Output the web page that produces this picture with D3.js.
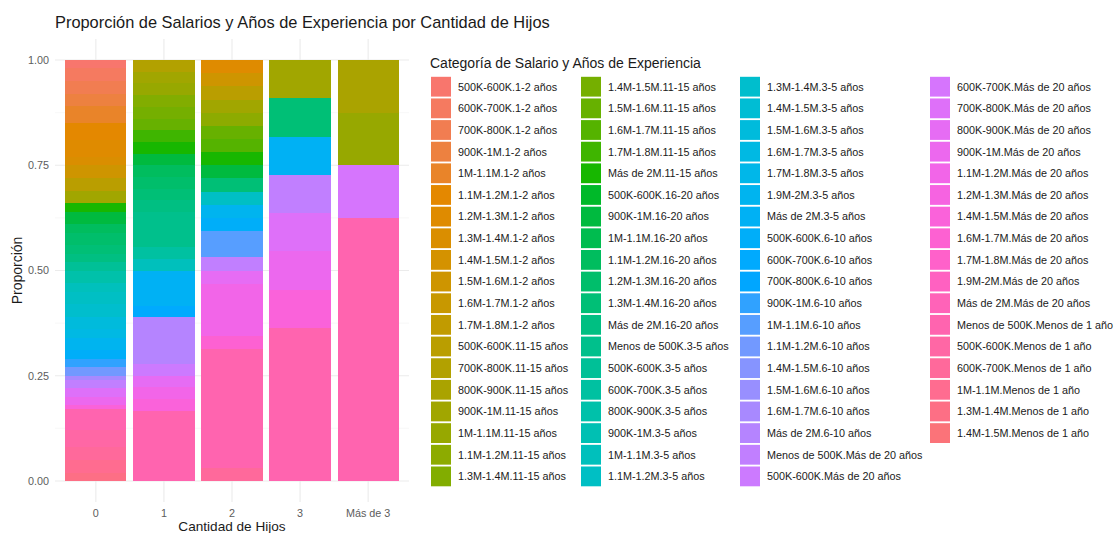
<!DOCTYPE html>
<html>
<head>
<meta charset="utf-8">
<title>Proporción de Salarios</title>
<script src="https://cdn.jsdelivr.net/npm/d3@7"></script>
<style>
body { margin: 0; background: #fff; }
text { font-family: "Liberation Sans", Arial, sans-serif; }
</style>
</head>
<body>
<script>

// categories, in legend order (first one is stacked on top)
var categorias = [
  "500K-600K.1-2 años", "600K-700K.1-2 años", "700K-800K.1-2 años", "900K-1M.1-2 años",
  "1M-1.1M.1-2 años", "1.1M-1.2M.1-2 años", "1.2M-1.3M.1-2 años", "1.3M-1.4M.1-2 años",
  "1.4M-1.5M.1-2 años", "1.5M-1.6M.1-2 años", "1.6M-1.7M.1-2 años", "1.7M-1.8M.1-2 años",
  "500K-600K.11-15 años", "700K-800K.11-15 años", "800K-900K.11-15 años", "900K-1M.11-15 años",
  "1M-1.1M.11-15 años", "1.1M-1.2M.11-15 años", "1.3M-1.4M.11-15 años",
  "1.4M-1.5M.11-15 años", "1.5M-1.6M.11-15 años", "1.6M-1.7M.11-15 años", "1.7M-1.8M.11-15 años",
  "Más de 2M.11-15 años", "500K-600K.16-20 años", "900K-1M.16-20 años", "1M-1.1M.16-20 años",
  "1.1M-1.2M.16-20 años", "1.2M-1.3M.16-20 años", "1.3M-1.4M.16-20 años", "Más de 2M.16-20 años",
  "Menos de 500K.3-5 años", "500K-600K.3-5 años", "600K-700K.3-5 años", "800K-900K.3-5 años",
  "900K-1M.3-5 años", "1M-1.1M.3-5 años", "1.1M-1.2M.3-5 años",
  "1.3M-1.4M.3-5 años", "1.4M-1.5M.3-5 años", "1.5M-1.6M.3-5 años", "1.6M-1.7M.3-5 años",
  "1.7M-1.8M.3-5 años", "1.9M-2M.3-5 años", "Más de 2M.3-5 años", "500K-600K.6-10 años",
  "600K-700K.6-10 años", "700K-800K.6-10 años", "900K-1M.6-10 años", "1M-1.1M.6-10 años",
  "1.1M-1.2M.6-10 años", "1.4M-1.5M.6-10 años", "1.5M-1.6M.6-10 años", "1.6M-1.7M.6-10 años",
  "Más de 2M.6-10 años", "Menos de 500K.Más de 20 años", "500K-600K.Más de 20 años",
  "600K-700K.Más de 20 años", "700K-800K.Más de 20 años", "800K-900K.Más de 20 años",
  "900K-1M.Más de 20 años", "1.1M-1.2M.Más de 20 años", "1.2M-1.3M.Más de 20 años",
  "1.4M-1.5M.Más de 20 años", "1.6M-1.7M.Más de 20 años", "1.7M-1.8M.Más de 20 años",
  "1.9M-2M.Más de 20 años", "Más de 2M.Más de 20 años", "Menos de 500K.Menos de 1 año",
  "500K-600K.Menos de 1 año", "600K-700K.Menos de 1 año", "1M-1.1M.Menos de 1 año",
  "1.3M-1.4M.Menos de 1 año", "1.4M-1.5M.Menos de 1 año"
];

var grupos = ["0", "1", "2", "3", "Más de 3"];

// counts per number of children (only categories that appear)
var hijos0 = [
  ["500K-600K.1-2 años", 2], ["600K-700K.1-2 años", 3], ["700K-800K.1-2 años", 3],
  ["900K-1M.1-2 años", 3], ["1M-1.1M.1-2 años", 4], ["1.1M-1.2M.1-2 años", 4],
  ["1.2M-1.3M.1-2 años", 4], ["1.3M-1.4M.1-2 años", 2], ["1.5M-1.6M.1-2 años", 3],
  ["500K-600K.11-15 años", 3], ["900K-1M.11-15 años", 3], ["Más de 2M.11-15 años", 2],
  ["900K-1M.16-20 años", 3], ["1.1M-1.2M.16-20 años", 2], ["1.2M-1.3M.16-20 años", 3],
  ["1.3M-1.4M.16-20 años", 2], ["Más de 2M.16-20 años", 2], ["500K-600K.3-5 años", 2],
  ["800K-900K.3-5 años", 3], ["1M-1.1M.3-5 años", 2], ["1.1M-1.2M.3-5 años", 3],
  ["1.3M-1.4M.3-5 años", 3], ["1.5M-1.6M.3-5 años", 3], ["1.6M-1.7M.3-5 años", 2],
  ["1.9M-2M.3-5 años", 3], ["500K-600K.6-10 años", 2], ["900K-1M.6-10 años", 2],
  ["1.1M-1.2M.6-10 años", 2], ["1.6M-1.7M.6-10 años", 1], ["Menos de 500K.Más de 20 años", 2],
  ["700K-800K.Más de 20 años", 2], ["900K-1M.Más de 20 años", 2], ["1.4M-1.5M.Más de 20 años", 1],
  ["Menos de 500K.Menos de 1 año", 5], ["500K-600K.Menos de 1 año", 4],
  ["600K-700K.Menos de 1 año", 3], ["1M-1.1M.Menos de 1 año", 3], ["1.3M-1.4M.Menos de 1 año", 2]
];
var hijos1 = [
  ["700K-800K.11-15 años", 1], ["900K-1M.11-15 años", 1], ["1M-1.1M.11-15 años", 1],
  ["1.3M-1.4M.11-15 años", 1], ["1.4M-1.5M.11-15 años", 1], ["1.5M-1.6M.11-15 años", 1],
  ["1.7M-1.8M.11-15 años", 1], ["Más de 2M.11-15 años", 1], ["900K-1M.16-20 años", 1],
  ["1.1M-1.2M.16-20 años", 1], ["1.2M-1.3M.16-20 años", 1], ["1.3M-1.4M.16-20 años", 1],
  ["Más de 2M.16-20 años", 1], ["Menos de 500K.3-5 años", 3], ["600K-700K.3-5 años", 1],
  ["1M-1.1M.3-5 años", 1], ["Más de 2M.3-5 años", 3], ["600K-700K.6-10 años", 1],
  ["Más de 2M.6-10 años", 4], ["500K-600K.Más de 20 años", 1], ["800K-900K.Más de 20 años", 1],
  ["1.1M-1.2M.Más de 20 años", 1], ["1.4M-1.5M.Más de 20 años", 1],
  ["Menos de 500K.Menos de 1 año", 6]
];
var hijos2 = [
  ["1.2M-1.3M.1-2 años", 1], ["1.5M-1.6M.1-2 años", 1], ["500K-600K.11-15 años", 1],
  ["900K-1M.11-15 años", 1], ["1.1M-1.2M.11-15 años", 1], ["1.5M-1.6M.11-15 años", 1],
  ["1.6M-1.7M.11-15 años", 1], ["Más de 2M.11-15 años", 1], ["900K-1M.16-20 años", 1],
  ["1.3M-1.4M.16-20 años", 1], ["1.1M-1.2M.3-5 años", 1], ["1.9M-2M.3-5 años", 1],
  ["500K-600K.6-10 años", 1], ["1M-1.1M.6-10 años", 2], ["Menos de 500K.Más de 20 años", 1],
  ["800K-900K.Más de 20 años", 1], ["1.1M-1.2M.Más de 20 años", 4], ["1.6M-1.7M.Más de 20 años", 1],
  ["Menos de 500K.Menos de 1 año", 9], ["600K-700K.Menos de 1 año", 1]
];
var hijos3 = [
  ["900K-1M.11-15 años", 1], ["1.3M-1.4M.16-20 años", 1], ["Más de 2M.3-5 años", 1],
  ["Menos de 500K.Más de 20 años", 1], ["700K-800K.Más de 20 años", 1],
  ["900K-1M.Más de 20 años", 1], ["1.4M-1.5M.Más de 20 años", 1],
  ["Menos de 500K.Menos de 1 año", 4]
];
var hijosMas3 = [
  ["800K-900K.11-15 años", 1], ["1M-1.1M.11-15 años", 1], ["600K-700K.Más de 20 años", 1],
  ["Menos de 500K.Menos de 1 año", 5]
];

var ticksY = [0, 0.25, 0.5, 0.75, 1];
var ticksYmenor = [0.125, 0.375, 0.625, 0.875];

// ggplot's hue palette: polar LUV (R hcl), c = 100, l = 65
function hclR(h, c, l) {
  var Xn = 95.047, Yn = 100, Zn = 108.883;
  var hr = h * Math.PI / 180;
  var U = c * Math.cos(hr), V = c * Math.sin(hr);
  var Y = Yn * (l > 7.999592 ? Math.pow((l + 16) / 116, 3) : l / 903.3);
  var t = Xn + Yn + Zn, x = Xn / t, y = Yn / t;
  var uN = 2 * x / (6 * y - x + 1.5), vN = 4.5 * y / (6 * y - x + 1.5);
  var u = U / (13 * l) + uN, v = V / (13 * l) + vN;
  var X = 9 * Y * u / (4 * v);
  var Z = -X / 3 - 5 * Y + 3 * Y / v;
  X /= 100; Y /= 100; Z /= 100;
  var rgb = [
    3.240479 * X - 1.537150 * Y - 0.498535 * Z,
    -0.969256 * X + 1.875992 * Y + 0.041556 * Z,
    0.055648 * X - 0.204043 * Y + 1.057311 * Z
  ].map(function(v) {
    v = v > 0.00304 ? 1.055 * Math.pow(v, 1 / 2.4) - 0.055 : 12.92 * v;
    return Math.round(255 * Math.max(0, Math.min(1, v)));
  });
  return d3.rgb(rgb[0], rgb[1], rgb[2]).formatHex();
}

var n = categorias.length;
var color = d3.scaleOrdinal()
  .domain(categorias)
  .range(categorias.map(function(d, i) { return hclR(15 + 360 * i / n, 100, 65); }));

var width = 1115, height = 533;
var panel = { left: 55, right: 409, top: 39, bottom: 502 };

var svg = d3.select('body').append('svg')
  .attr('width', width)
  .attr('height', height);

// table: one row per group, one column per category
var conteos = [hijos0, hijos1, hijos2, hijos3, hijosMas3];
var tabla = grupos.map(function(g, i) {
  var row = { grupo: g };
  categorias.forEach(function(c) { row[c] = 0; });
  conteos[i].forEach(function(p) { row[p[0]] = p[1]; });
  return row;
});

// reversed keys so the first category ends up on top, like position_fill
var series = d3.stack()
  .keys(categorias.slice().reverse())
  .offset(d3.stackOffsetExpand)(tabla);

var x = d3.scaleBand()
  .domain(grupos)
  .range([panel.left, panel.right])
  .paddingInner(0.1)
  .paddingOuter(0.15);

var y = d3.scaleLinear()
  .domain([-0.05, 1.05])
  .range([panel.bottom, panel.top]);

// grid
var grid = svg.append('g');
grid.selectAll('line.menor')
  .data(ticksYmenor)
  .enter().append('line')
  .attr('x1', panel.left).attr('x2', panel.right)
  .attr('y1', function(d) { return y(d); }).attr('y2', function(d) { return y(d); })
  .attr('stroke', '#f3f3f3').attr('stroke-width', 0.6);
grid.selectAll('line.mayor')
  .data(ticksY)
  .enter().append('line')
  .attr('x1', panel.left).attr('x2', panel.right)
  .attr('y1', function(d) { return y(d); }).attr('y2', function(d) { return y(d); })
  .attr('stroke', '#ebebeb').attr('stroke-width', 1.1);
grid.selectAll('line.vert')
  .data(grupos)
  .enter().append('line')
  .attr('x1', function(d) { return x(d) + x.bandwidth() / 2; })
  .attr('x2', function(d) { return x(d) + x.bandwidth() / 2; })
  .attr('y1', panel.top).attr('y2', panel.bottom)
  .attr('stroke', '#ebebeb').attr('stroke-width', 1.1);

// bars
var barras = svg.append('g').attr('shape-rendering', 'crispEdges');
barras.selectAll('g')
  .data(series)
  .enter().append('g')
  .attr('fill', function(s) { return color(s.key); })
  .selectAll('rect')
  .data(function(s) { return s.filter(function(d) { return d[1] > d[0]; }); })
  .enter().append('rect')
  .attr('x', function(d) { return x(d.data.grupo); })
  .attr('width', x.bandwidth())
  .attr('y', function(d) { return y(d[1]); })
  .attr('height', function(d) { return y(d[0]) - y(d[1]); });

// axes
var ejeY = svg.append('g')
  .attr('transform', 'translate(' + panel.left + ',0)')
  .call(d3.axisLeft(y).tickValues(ticksY).tickFormat(d3.format('.2f')).tickSize(0).tickPadding(6));
var ejeX = svg.append('g')
  .attr('transform', 'translate(0,' + panel.bottom + ')')
  .call(d3.axisBottom(x).tickSize(0).tickPadding(7));
[ejeY, ejeX].forEach(function(e) {
  e.select('.domain').remove();
  e.selectAll('text')
    .attr('fill', '#5c5c5c')
    .style('font-size', '10.8px')
    .style('font-family', '"Liberation Sans", Arial, sans-serif');
});

svg.append('text')
  .attr('x', (panel.left + panel.right) / 2)
  .attr('y', 531)
  .attr('text-anchor', 'middle')
  .style('font-size', '13.6px')
  .attr('fill', '#1a1a1a')
  .text('Cantidad de Hijos');

svg.append('text')
  .attr('transform', 'translate(22,' + ((panel.top + panel.bottom) / 2) + ') rotate(-90)')
  .attr('text-anchor', 'middle')
  .style('font-size', '14px')
  .attr('fill', '#1a1a1a')
  .text('Proporción');

svg.append('text')
  .attr('x', 55)
  .attr('y', 28)
  .style('font-size', '16.4px')
  .attr('fill', '#1a1a1a')
  .text('Proporción de Salarios y Años de Experiencia por Cantidad de Hijos');

// legend, filled column by column
var leyenda = svg.append('g');
leyenda.append('text')
  .attr('x', 430)
  .attr('y', 68)
  .style('font-size', '14px')
  .attr('fill', '#1a1a1a')
  .text('Categoría de Salario y Años de Experiencia');

var filas = 19;
var colX = [431, 581, 740, 930];
var item = leyenda.selectAll('g.item')
  .data(categorias)
  .enter().append('g')
  .attr('transform', function(d, i) {
    return 'translate(' + colX[Math.floor(i / filas)] + ',' + (76.8 + (i % filas) * 21.65) + ')';
  });
item.append('rect')
  .attr('width', 20)
  .attr('height', 19.8)
  .attr('fill', function(d) { return color(d); });
item.append('text')
  .attr('x', 27)
  .attr('y', 10)
  .attr('dy', '0.35em')
  .style('font-size', '10.8px')
  .attr('fill', '#1a1a1a')
  .text(function(d) { return d; });

</script>
</body>
</html>
